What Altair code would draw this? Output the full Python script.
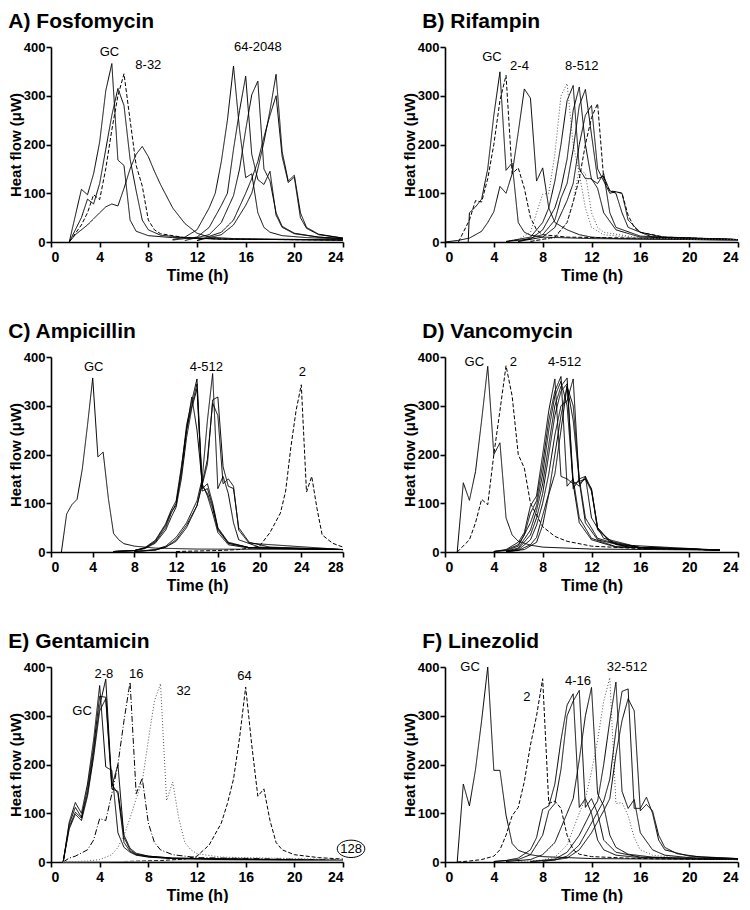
import altair as alt
import pandas as pd

# ---------------- data (time h, heat flow uW) ----------------
# A) Fosfomycin
FOS_GC = [(1.5,0),(2.5,108),(3,97),(3.5,140),(4,205),(4.5,310),(5,366),(5.5,168),(6,157),(6.5,45),(7,22),(8,13),(10,9),(14,6),(24,4)]
FOS_8a = [(1.5,0),(2.5,50),(3,88),(3.5,78),(4,120),(4.5,190),(5,260),(5.5,315),(6,280),(6.5,170),(7,105),(7.5,45),(8,25),(9,14),(11,9),(14,6),(24,4)]
FOS_8b = [(1.5,0),(2.5,35),(3,60),(3.5,97),(4,87),(4.5,150),(5,230),(5.5,300),(6,345),(6.5,250),(7,157),(7.5,115),(8,45),(8.5,25),(9,17),(11,9),(14,6),(24,4)]
FOS_8c = [(1.5,0),(2,15),(3,35),(4,60),(4.5,72),(5,78),(5.5,74),(6,110),(6.5,150),(7,180),(7.5,196),(8,175),(8.5,145),(9,118),(10,70),(11,38),(12,18),(13,10),(15,7),(24,4)]
FOS_64a = [(10,5),(11,10),(12,25),(13,70),(13.5,100),(14,165),(14.5,250),(15,361),(15.5,230),(16,132),(16.5,140),(17,60),(17.5,30),(18,20),(19,13),(21,9),(24,6)]
FOS_64b = [(10,4),(12,10),(13,30),(14,75),(14.5,100),(15,190),(15.5,270),(16,340),(16.5,180),(17,128),(17.5,118),(18,145),(18.5,55),(19,30),(20,17),(22,10),(24,7)]
FOS_64c = [(11,3),(13,15),(14,40),(15,95),(15.5,150),(16,230),(16.5,302),(17,330),(17.5,150),(18,125),(18.5,60),(19,32),(20,18),(22,10),(24,7)]
FOS_64d = [(12,3),(14,15),(15,35),(16,75),(16.5,100),(17,150),(17.5,205),(18,270),(18.5,344),(19,185),(19.5,125),(20,137),(20.5,60),(21,30),(22,16),(24,8)]
FOS_64e = [(12,3),(14,20),(15,45),(16,100),(16.5,130),(17,165),(17.5,215),(18,260),(18.5,300),(19,175),(19.5,122),(20,133),(20.5,50),(21,28),(22,15),(24,8)]

# B) Rifampin
RIF_GC = [(1.9,0),(2,60),(2.5,72),(3,88),(3.5,150),(4,260),(4.5,349),(5,147),(5.5,162),(6,40),(6.5,20),(7,14),(8,10),(12,7),(24,4)]
RIF_2a = [(1.1,0),(1.5,20),(2,45),(2.5,85),(3,82),(3.5,130),(4,200),(4.5,290),(5,342),(5.5,140),(6,152),(6.5,110),(7,50),(7.5,25),(8,15),(10,10),(24,5)]
RIF_2b = [(0,0),(1,3),(2,8),(3,22),(3.5,40),(4,62),(4.5,114),(5,100),(5.5,140),(6,225),(6.5,314),(7,295),(7.5,125),(8,152),(8.5,70),(9,40),(10,25),(11,15),(12,10),(14,7),(24,4)]
RIF_8a = [(5,1),(6,5),(7,20),(7.5,60),(8,98),(8.5,100),(9,180),(9.5,300),(10,325),(10.5,200),(11,140),(11.5,70),(12,30),(13,15),(16,7),(24,4)]
RIF_8b = [(5,1),(7,10),(8,40),(8.5,70),(9,125),(9.5,200),(10,290),(10.5,321),(11,150),(11.5,130),(12,130),(12.5,110),(13,60),(14,25),(16,10),(24,5)]
RIF_8c = [(5,1),(7,6),(8,25),(9,70),(9.5,110),(10,170),(10.5,270),(11,318),(11.5,200),(12,128),(12.5,120),(13,140),(13.5,60),(14,30),(16,12),(24,5)]
RIF_8d = [(6,1),(8,15),(9,45),(9.5,90),(10,120),(10.5,190),(11,280),(11.5,313),(12,220),(12.5,130),(13,135),(13.5,105),(14,100),(14.5,60),(15,30),(17,10),(24,5)]
RIF_8e = [(6,1),(8,10),(9,30),(10,85),(10.5,120),(11,200),(11.5,260),(12,280),(12.5,150),(13,125),(13.5,100),(14,103),(14.5,100),(15,45),(16,20),(18,9),(24,5)]
RIF_8f = [(7,1),(9,10),(10,40),(10.5,82),(11,130),(11.5,200),(12,255),(12.5,284),(13,130),(13.5,105),(14,103),(14.5,100),(15,55),(15.5,30),(16,20),(18,10),(24,5)]
RIF_8g = [(7,2),(9,8),(10,40),(10.5,83),(11,150),(11.5,140),(12,60),(12.5,30),(13,20),(16,8),(24,5)]

# C) Ampicillin
AMP_GC = [(1,0),(1.5,78),(2,97),(2.5,108),(3,170),(3.5,260),(4,357),(4.5,195),(5,205),(5.5,110),(6,38),(6.5,25),(7,17),(8,12),(10,8),(14,6),(28,5)]
AMP_4a = [(6,1),(8,3),(9,8),(10,20),(11,50),(11.5,78),(12,100),(12.5,160),(13,250),(13.5,318),(14,250),(14.5,140),(15,115),(15.5,80),(16,40),(17,15),(19,8),(28,5)]
AMP_4b = [(6,1),(8,3),(9,8),(10,22),(11,55),(11.5,82),(12,95),(12.5,170),(13,260),(13.5,310),(14,355),(14.5,135),(15,120),(15.5,90),(16,45),(17,18),(19,9),(28,5)]
AMP_4c = [(6,1),(8,3),(9,9),(10,24),(11,58),(11.5,85),(12,105),(12.5,175),(13,250),(13.5,300),(14,345),(14.5,125),(15,130),(15.5,95),(16,48),(17,18),(19,9),(28,5)]
AMP_4d = [(6,1),(8,3),(9,7),(10,18),(11,45),(11.5,70),(12,92),(12.5,150),(13,235),(13.5,295),(14,335),(14.5,130),(15,140),(15.5,100),(16,50),(17,20),(19,9),(28,5)]
AMP_4e = [(8,1),(10,5),(11,12),(12,30),(13,60),(14,105),(14.5,150),(15,270),(15.5,366),(16,130),(16.5,155),(17,120),(17.5,60),(18,25),(20,10),(28,5)]
AMP_4f = [(8,1),(10,4),(11,10),(12,25),(13,55),(14,95),(15,180),(15.5,312),(16,318),(16.5,175),(17,135),(17.5,130),(18,50),(19,20),(21,10),(28,5)]
AMP_4g = [(8,1),(10,4),(11,10),(12,22),(13,50),(14,95),(15,190),(15.5,305),(16,280),(16.5,140),(17,150),(17.5,135),(18,45),(19,18),(28,5)]
AMP_2 = [(12,1),(16,3),(18,5),(19,8),(20,12),(21,40),(22,80),(22.5,125),(23,215),(23.5,290),(24,343),(24.5,123),(25,155),(25.5,90),(26,35),(27,18),(28,10)]

# D) Vancomycin
VAN_GC = [(1,0),(1.5,142),(2,106),(2.5,165),(3,270),(3.5,381),(4,200),(4.5,224),(5,70),(5.5,35),(6,22),(7,14),(8,10),(12,6),(22.5,4)]
VAN_2 = [(1,0),(2,25),(2.5,60),(3,108),(3.5,97),(4,200),(4.5,290),(5,382),(5.5,320),(6,200),(6.5,172),(7,100),(8,52),(9,32),(10,22),(12,12),(16,7),(22.5,4)]
VAN_4a = [(4,1),(5,5),(6,20),(6.5,40),(7,95),(7.5,115),(8,200),(8.5,290),(9,355),(9.5,155),(10,150),(10.5,140),(11,60),(12,25),(14,10),(22.5,4)]
VAN_4b = [(4,1),(5,4),(6,15),(6.5,35),(7,80),(7.5,105),(8,180),(8.5,270),(9,330),(9.5,360),(10,135),(10.5,150),(11,70),(12,28),(14,11),(22.5,4)]
VAN_4c = [(4,1),(5,3),(6,12),(7,60),(7.5,95),(8,160),(8.5,250),(9,320),(9.5,350),(10,300),(10.5,140),(11,145),(11.5,60),(12.5,25),(15,10),(22.5,4)]
VAN_4d = [(5,2),(6,8),(7,45),(7.5,85),(8,140),(8.5,220),(9,300),(9.5,340),(10,357),(10.5,130),(11,150),(11.5,70),(12.5,28),(15,10),(22.5,4)]
VAN_4e = [(5,1),(6,6),(7,35),(7.5,70),(8,120),(8.5,200),(9,280),(9.5,330),(10,345),(10.5,145),(11,135),(11.5,155),(12,70),(13,28),(16,9),(22.5,4)]
VAN_4f = [(5,1),(6,4),(7,25),(7.5,55),(8,100),(8.5,160),(9,240),(9.5,300),(10,310),(10.5,355),(11,140),(11.5,150),(12,130),(12.5,50),(13.5,22),(16,9),(22.5,4)]
VAN_4g = [(5,1),(6,3),(7,15),(7.5,30),(8,75),(8.5,120),(9,200),(9.5,280),(10,340),(10.5,300),(11,150),(11.5,155),(12,128),(12.5,45),(14,15),(22.5,4)]
VAN_4h = [(5,1),(6.5,5),(7.5,20),(8,55),(8.5,118),(9,160),(9.5,250),(10,340),(10.5,270),(11,145),(11.5,150),(12,125),(12.5,50),(13.5,20),(16,8),(22.5,4)]

# E) Gentamicin
GEN_GC = [(1,0),(1.5,82),(2,122),(2.5,100),(3,160),(3.5,250),(4,362),(4.5,195),(5,188),(5.5,60),(6,30),(6.5,20),(7,14),(8,10),(10,7),(14,5),(24,3)]
GEN_2a = [(1,0),(1.5,78),(2,112),(2.5,92),(3,150),(3.5,235),(4,340),(4.5,338),(5,160),(5.5,140),(6,40),(6.5,22),(7,15),(8,11),(10,7),(24,3)]
GEN_2b = [(1,0),(1.5,72),(2,102),(2.5,90),(3,140),(3.5,225),(4,320),(4.5,375),(5,155),(5.5,200),(6,50),(6.5,25),(7,16),(8,12),(10,8),(24,3)]
GEN_2c = [(1,0),(1.5,68),(2,98),(2.5,85),(3,135),(3.5,215),(4,310),(4.5,335),(5,150),(5.5,145),(6,55),(6.5,28),(7,18),(8,12),(10,8),(24,3)]
GEN_16 = [(1,0),(1.5,8),(2,12),(3,25),(3.5,45),(4,89),(4.5,85),(5,140),(5.5,200),(6,290),(6.5,369),(7,140),(7.5,172),(8,80),(8.5,40),(9,25),(10,15),(12,9),(24,4)]
GEN_32 = [(1,0),(3,2),(4,5),(5,15),(5.5,30),(6,55),(6.5,90),(7,130),(7.5,165),(8,250),(8.5,330),(9,366),(9.5,126),(10,164),(10.5,90),(11,40),(11.5,25),(12,17),(14,10),(24,5)]
GEN_64 = [(6,1),(9,3),(11,6),(12,12),(13,35),(14,80),(14.5,120),(15,170),(15.5,255),(16,359),(16.5,240),(17,135),(17.5,150),(18,85),(18.5,40),(19,25),(20,15),(22,9),(24,6)]
GEN_128 = [(1,0),(6,1),(24,3)]

# F) Linezolid
LIN_GC = [(1,0),(1.5,160),(2,115),(2.5,190),(3,290),(3.5,400),(4,188),(4.5,188),(5,96),(5.5,38),(6,24),(7,15),(8,11),(12,7),(24,5)]
LIN_2 = [(1,0),(2,2),(3,5),(4,12),(4.5,25),(5,55),(5.5,95),(6,112),(6.5,165),(7,240),(7.5,300),(8,376),(8.5,120),(9,125),(9.5,110),(10,55),(10.5,25),(11,16),(12,11),(16,7),(24,5)]
LIN_4a = [(4,1),(5,3),(6,8),(7,25),(7.5,50),(8,108),(8.5,115),(9,160),(9.5,250),(10,322),(10.5,345),(11,112),(11.5,130),(12,100),(12.5,45),(13,25),(14,14),(16,9),(24,5)]
LIN_4b = [(4,1),(6,5),(7,15),(8,55),(8.5,105),(9,120),(9.5,190),(10,300),(10.5,330),(11,352),(11.5,112),(12,130),(12.5,100),(13,45),(14,20),(16,10),(24,5)]
LIN_4c = [(5,1),(7,5),(8,15),(9,40),(10,100),(10.5,130),(11,210),(11.5,300),(12,358),(12.5,140),(13,115),(13.5,55),(14,30),(15,16),(17,10),(24,5)]
LIN_32a = [(6,1),(8,4),(9,10),(10,35),(11,100),(11.5,130),(12,185),(12.5,250),(13,330),(13.5,378),(14,120),(14.5,122),(15,95),(15.5,50),(16,25),(17,14),(19,9),(24,5)]
LIN_32b = [(7,1),(9,6),(10,20),(11,55),(12,105),(12.5,125),(13,200),(13.5,290),(14,369),(14.5,145),(15,110),(15.5,128),(16,60),(17,25),(18,14),(20,9),(24,6)]
LIN_32c = [(7,1),(9,4),(10,12),(11,35),(12,80),(13,125),(13.5,170),(14,270),(14.5,350),(15,355),(15.5,110),(16,110),(16.5,133),(17,100),(17.5,45),(18,25),(20,12),(24,7)]
LIN_32d = [(8,1),(10,8),(11,25),(12,60),(13,105),(13.5,130),(14,220),(14.5,290),(15,335),(15.5,310),(16,105),(16.5,118),(17,105),(17.5,55),(18,30),(19,17),(21,10),(24,7)]

# annotation text: (label, time, heat flow)
FOS_LABELS = [("GC", 4.8, 390), ("8-32", 8.0, 363), ("64-2048", 17.0, 400)]
RIF_LABELS = [("GC", 3.85, 379), ("2-4", 6.1, 361), ("8-512", 11.2, 361)]
AMP_LABELS = [("GC", 4.1, 380), ("4-512", 14.9, 380), ("2", 24.1, 369)]
VAN_LABELS = [("GC", 2.4, 390), ("2", 5.6, 390), ("4-512", 9.8, 390)]
GEN_LABELS = [("GC", 2.55, 310), ("2-8", 4.35, 386), ("16", 7.0, 386), ("32", 10.9, 351), ("64", 15.9, 382), ("128", 24.66, 27)]
LIN_LABELS = [("GC", 2.05, 400), ("2", 6.7, 338), ("4-16", 10.9, 371), ("32-512", 14.9, 400)]
GEN_CIRCLE = [(24.66, 27)]

STYLE_DOMAIN = ["solid", "dashed", "dotted", "dashdot", "grey"]
STYLE_DASH = [[1, 0], [4, 2], [1, 2], [6, 2, 1, 2], [1, 0]]
STYLE_COLOR = ["#000000", "#000000", "#555555", "#000000", "#888888"]

FONT = "Liberation Sans"


def panel(title, curves, labels, xmax, width, title_dx, circle=None):
    rows = []
    for i, (pts, style) in enumerate(curves):
        for t, v in pts:
            rows.append({"t": t, "v": v, "id": i, "style": style})
    df = pd.DataFrame(rows)
    x = alt.X("t:Q", scale=alt.Scale(domain=[0, xmax], nice=False),
              axis=alt.Axis(values=list(range(0, xmax + 1, 4)), title="Time (h)"))
    y = alt.Y("v:Q", scale=alt.Scale(domain=[0, 400], nice=False),
              axis=alt.Axis(values=[0, 100, 200, 300, 400], title="Heat flow (\u03bcW)"))
    lines = alt.Chart(df).mark_line(strokeWidth=1, strokeJoin="miter").encode(
        x=x, y=y, detail="id:N",
        strokeDash=alt.StrokeDash("style:N", scale=alt.Scale(domain=STYLE_DOMAIN, range=STYLE_DASH), legend=None),
        color=alt.Color("style:N", scale=alt.Scale(domain=STYLE_DOMAIN, range=STYLE_COLOR), legend=None),
    )
    ldf = pd.DataFrame(labels, columns=["label", "t", "v"])
    txt = alt.Chart(ldf).mark_text(font=FONT, fontSize=13, color="black", baseline="middle").encode(
        x="t:Q", y="v:Q", text="label:N")
    layers = [lines, txt]
    if circle:
        cdf = pd.DataFrame(circle, columns=["t", "v"])
        layers.append(alt.Chart(cdf).mark_point(
            shape="M-1,0A1,0.63,0,1,0,1,0A1,0.63,0,1,0,-1,0Z", size=760, filled=False,
            color="black", strokeWidth=1, opacity=1).encode(x="t:Q", y="v:Q"))
    return alt.layer(*layers).properties(
        width=width, height=195,
        title=alt.TitleParams(title, anchor="start", fontSize=21, font=FONT, fontWeight="bold",
                              color="black", dx=title_dx, offset=9),
    )


A = panel("A) Fosfomycin", [(FOS_GC, "solid"), (FOS_8a, "solid"), (FOS_8b, "dashed"), (FOS_8c, "solid"),
                            (FOS_64a, "solid"), (FOS_64b, "solid"), (FOS_64c, "solid"), (FOS_64d, "solid"), (FOS_64e, "solid")],
          FOS_LABELS, 24, 292, 0)
B = panel("B) Rifampin", [(RIF_GC, "solid"), (RIF_2a, "dashed"), (RIF_2b, "solid"), (RIF_8a, "dotted"), (RIF_8b, "solid"),
                          (RIF_8c, "solid"), (RIF_8d, "solid"), (RIF_8e, "solid"), (RIF_8f, "dashed"), (RIF_8g, "dotted")],
          RIF_LABELS, 24, 293, 20)
C = panel("C) Ampicillin", [(AMP_GC, "solid"), (AMP_4a, "solid"), (AMP_4b, "solid"), (AMP_4c, "solid"), (AMP_4d, "solid"),
                            (AMP_4e, "solid"), (AMP_4f, "solid"), (AMP_4g, "solid"), (AMP_2, "dashed")],
          AMP_LABELS, 28, 292, 0)
D = panel("D) Vancomycin", [(VAN_GC, "solid"), (VAN_2, "dashed"), (VAN_4a, "solid"), (VAN_4b, "solid"), (VAN_4c, "solid"),
                            (VAN_4d, "solid"), (VAN_4e, "solid"), (VAN_4f, "solid"), (VAN_4g, "solid"), (VAN_4h, "solid")],
          VAN_LABELS, 24, 293, 20)
E = panel("E) Gentamicin", [(GEN_GC, "solid"), (GEN_2a, "solid"), (GEN_2b, "solid"), (GEN_2c, "solid"), (GEN_16, "dashdot"),
                            (GEN_32, "dotted"), (GEN_64, "dashed"), (GEN_128, "grey")],
          GEN_LABELS, 24, 292, 0, circle=GEN_CIRCLE)
F = panel("F) Linezolid", [(LIN_GC, "solid"), (LIN_2, "dashed"), (LIN_4a, "solid"), (LIN_4b, "solid"), (LIN_4c, "solid"),
                           (LIN_32a, "dotted"), (LIN_32b, "solid"), (LIN_32c, "solid"), (LIN_32d, "solid")],
          LIN_LABELS, 24, 293, 20)

chart = alt.concat(
    A, B, C, D, E, F, columns=2, bounds="flush", spacing={"row": 115, "column": 102},
).properties(
    padding={"top": 3, "left": 0, "right": 0, "bottom": 0}
).configure_view(stroke=None).configure_axis(
    grid=False, domainColor="black", domainWidth=1.6, tickColor="black", tickWidth=1.6, tickSize=5,
    labelFont=FONT, labelFontWeight="bold", labelColor="black",
    titleFont=FONT, titleFontWeight="bold", titleColor="black", titleFontSize=16,
).configure_axisX(labelFontSize=14, labelPadding=3, titlePadding=3).configure_axisY(
    labelFontSize=13, labelPadding=1, titlePadding=0, titleFontSize=15)

chart.save("out.html", embed_options={"renderer": "svg", "actions": False})
